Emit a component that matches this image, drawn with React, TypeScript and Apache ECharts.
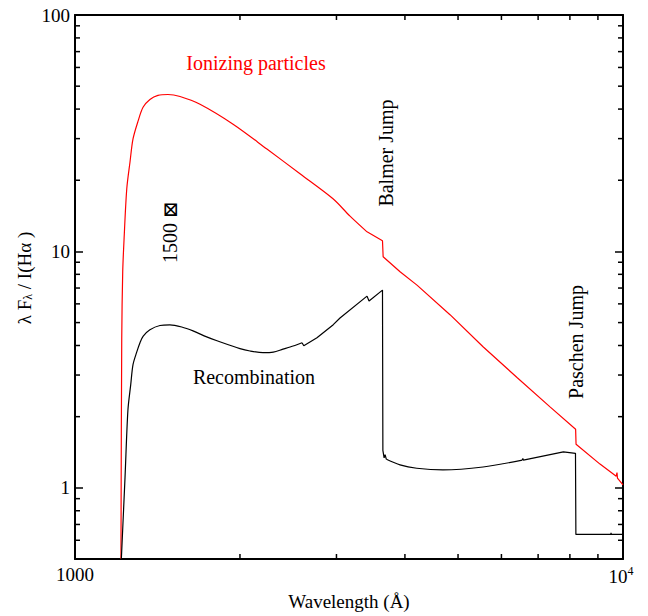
import React, { useEffect, useRef } from "react";
import * as echarts from "echarts";

const X_MIN = 1000;
const X_MAX = 10000;
const Y_MIN = 0.5;
const Y_MAX = 100;

// Ionizing particles (red): [wavelength Å, λF_λ / I(Hα)]
// smooth rise and turnover
const ionizingRise: number[][] = [
  [1213, 0.5], [1217, 4.3], [1222, 8.2], [1229, 11.3], [1243, 18.4], [1260, 23.9],
  [1276, 29.9], [1303, 35.5], [1331, 40.7], [1370, 43.9], [1417, 45.7], [1478, 46.1],
  [1555, 45.2], [1691, 41.9], [1943, 34.5], [2240, 27.1], [2574, 21.3], [2957, 16.7],
  [3176, 14.1], [3411, 12.1],
];
// straight decline with Balmer and Paschen jumps
const ionizingTail: number[][] = [
  [3411, 12.1], [3640, 11.1], [3650, 9.5], [3919, 8.2],
  [4208, 7.2], [4834, 5.4], [5554, 3.95], [6406, 2.93], [7359, 2.2], [8195, 1.77],
  [8210, 1.53], [9079, 1.26], [9720, 1.12], [9751, 1.16], [9770, 1.1], [10000, 1.03],
];

// Recombination (black)
const recombRise: number[][] = [
  [1215, 0.5], [1234, 1.11], [1249, 2.13], [1264, 2.74], [1276, 3.32], [1296, 3.75],
  [1314, 4.11], [1332, 4.38], [1370, 4.66], [1429, 4.86], [1490, 4.89], [1566, 4.79],
  [1642, 4.61], [1739, 4.35], [1816, 4.19], [2000, 3.88], [2086, 3.79], [2203, 3.73],
  [2301, 3.75], [2396, 3.86], [2469, 3.94], [2596, 4.11],
];
const recombBalmer: number[][] = [
  [2596, 4.11], [2615, 3.99], [2764, 4.31], [2960, 4.9], [3045, 5.23], [3411, 6.47],
  [3440, 6.17], [3640, 6.86], [3646, 1.44], [3665, 1.34], [3680, 1.38], [3700, 1.32],
];
const recombMid: number[][] = [
  [3700, 1.32], [3919, 1.25], [4203, 1.21], [4693, 1.19], [5554, 1.225], [6550, 1.31],
];
const recombPaschen: number[][] = [
  [6550, 1.31], [6565, 1.33], [6580, 1.31], [7784, 1.42], [8190, 1.4], [8204, 0.635],
  [9500, 0.635], [9510, 0.645], [9520, 0.635], [10000, 0.635],
];

const xMinorTicks = [2000, 3000, 4000, 5000, 6000, 7000, 8000, 9000];
const yMinorTicks = [0.6, 0.7, 0.8, 0.9, 2, 3, 4, 5, 6, 7, 8, 9, 20, 30, 40, 50, 60, 70, 80, 90];

const FONT = "'Liberation Serif', 'DejaVu Serif', serif";
const RED = "#ff0000";

export default function App() {
  const ref = useRef<HTMLDivElement>(null);
  useEffect(() => {
    if (!ref.current) return;
    const chart = echarts.init(ref.current, null, { renderer: "svg" });
    const tickStyle = { stroke: "#000", lineWidth: 1.5 };
    const yLabelFmt = (v: number) => {
      const l = Math.log10(v);
      return Math.abs(l - Math.round(l)) < 1e-6 ? String(Math.round(v)) : "";
    };
    const axisLine = { show: true, lineStyle: { color: "#000", width: 2 } };
    const txt = (text: string, x: number, y: number, rot: number, fill = "#000") => ({
      type: "text", x, y, rotation: rot, silent: true,
      style: { text, fill, fontFamily: FONT, fontSize: 20, align: "center", verticalAlign: "middle" },
    });
    const line = (data: number[][], color: string, smooth: number | boolean) => ({
      type: "line", data, showSymbol: false, symbol: "none", smooth,
      lineStyle: { color, width: 1.2 }, clip: true, silent: true,
    });
    chart.setOption({
      animation: false,
      backgroundColor: "#fff",
      textStyle: { fontFamily: FONT },
      grid: { left: 75, right: 25, top: 15, bottom: 53 },
      xAxis: [
        {
          type: "log", logBase: 10, min: X_MIN, max: X_MAX,
          axisLine, axisTick: { show: false }, splitLine: { show: false },
          axisLabel: {
            color: "#000", fontFamily: FONT, fontSize: 19, margin: 6,
            formatter: (v: number) => (v < 5000 ? "1000" : "{a|10}{b|4}"),
            rich: {
              a: { fontFamily: FONT, fontSize: 19, color: "#000" },
              b: { fontFamily: FONT, fontSize: 12, color: "#000", verticalAlign: "top", padding: [0, 4, 10, 0] },
            },
          },
          name: "Wavelength (Å)", nameLocation: "middle", nameGap: 33,
          nameTextStyle: { color: "#000", fontFamily: FONT, fontSize: 19 },
        },
        {
          type: "log", logBase: 10, min: X_MIN, max: X_MAX, position: "top",
          axisLine, axisTick: { show: false }, axisLabel: { show: false }, splitLine: { show: false },
        },
      ],
      yAxis: [
        {
          type: "log", logBase: 10, min: Y_MIN, max: Y_MAX,
          axisLine,
          axisTick: { show: true, inside: true, length: 8, lineStyle: { color: "#000", width: 1.5 } },
          splitLine: { show: false },
          axisLabel: { color: "#000", fontFamily: FONT, fontSize: 19, margin: 5, formatter: yLabelFmt },
        },
        {
          type: "log", logBase: 10, min: Y_MIN, max: Y_MAX, position: "right",
          axisLine,
          axisTick: { show: true, inside: true, length: 8, lineStyle: { color: "#000", width: 1.5 } },
          axisLabel: { show: false }, splitLine: { show: false },
        },
      ],
      series: [
        line(ionizingRise, RED, 0.3),
        line(ionizingTail, RED, false),
        line(recombRise, "#000", 0.3),
        line(recombBalmer, "#000", false),
        line(recombMid, "#000", 0.3),
        line(recombPaschen, "#000", false),
        {
          type: "custom", clip: false, silent: true,
          data: xMinorTicks.map((v) => [v, Y_MIN]),
          renderItem: (_p: any, api: any) => {
            const v = api.value(0);
            const b = api.coord([v, Y_MIN]);
            const t = api.coord([v, Y_MAX]);
            return {
              type: "group",
              children: [
                { type: "line", shape: { x1: b[0], y1: b[1], x2: b[0], y2: b[1] - 5 }, style: tickStyle },
                { type: "line", shape: { x1: t[0], y1: t[1], x2: t[0], y2: t[1] + 5 }, style: tickStyle },
              ],
            };
          },
        },
        {
          type: "custom", clip: false, silent: true,
          data: yMinorTicks.map((v) => [X_MIN, v]),
          renderItem: (_p: any, api: any) => {
            const v = api.value(1);
            const l = api.coord([X_MIN, v]);
            const r = api.coord([X_MAX, v]);
            return {
              type: "group",
              children: [
                { type: "line", shape: { x1: l[0], y1: l[1], x2: l[0] + 5, y2: l[1] }, style: tickStyle },
                { type: "line", shape: { x1: r[0], y1: r[1], x2: r[0] - 5, y2: r[1] }, style: tickStyle },
              ],
            };
          },
        },
      ],
      graphic: [
        txt("Ionizing particles", 256, 63, 0, RED),
        txt("Recombination", 254, 377, 0),
        txt("Balmer Jump", 386, 153, Math.PI / 2),
        txt("Paschen Jump", 576, 342, Math.PI / 2),
        txt("1500 ⊠", 170, 232, Math.PI / 2),
        {
          type: "text", x: 24, y: 278, rotation: Math.PI / 2, silent: true,
          style: {
            text: "{n|λ F}{s|λ}{n| / I(Hα )}",
            align: "center", verticalAlign: "middle",
            rich: {
              n: { fontFamily: FONT, fontSize: 19, fill: "#000" },
              s: { fontFamily: FONT, fontSize: 12, fill: "#000", verticalAlign: "bottom", padding: [8, 0, 0, 0] },
            },
          },
        },
      ],
    });
    return () => chart.dispose();
  }, []);
  return (
    <div
      ref={ref}
      style={{ position: "fixed", left: 0, top: 0, width: 648, height: 616, background: "#fff" }}
    />
  );
}
